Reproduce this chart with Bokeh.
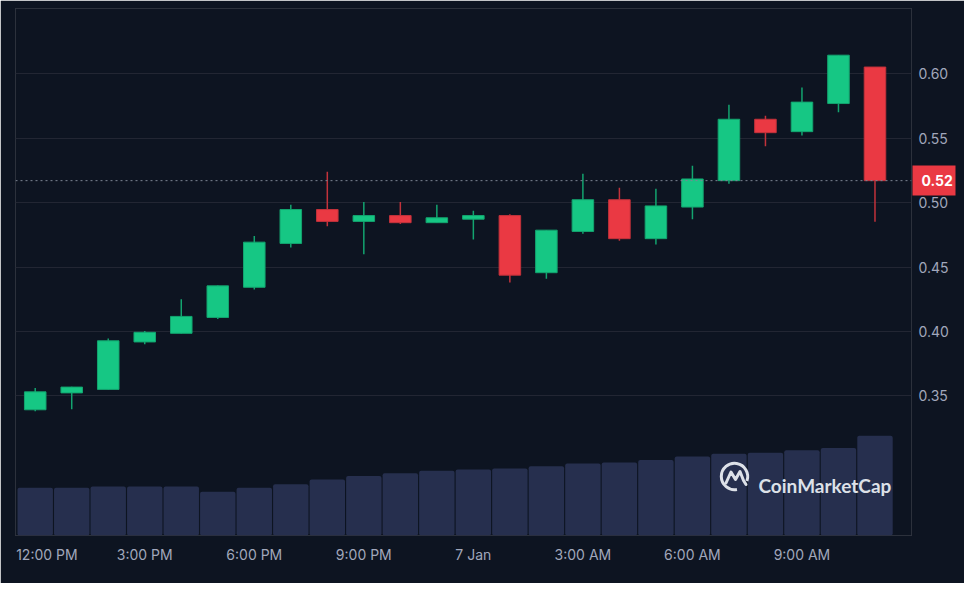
from bokeh.plotting import figure
from bokeh.models import (Range1d, FixedTicker, Span, Label, ColumnDataSource,
                          NumeralTickFormatter, LinearAxis)
from bokeh.embed import file_html
from bokeh.resources import INLINE

# ---------------- data ----------------
hours = list(range(24))  # hourly candles, 12:00 PM (6 Jan) .. 11:00 AM (7 Jan)
open_ = [0.3393, 0.3524, 0.3551, 0.3919, 0.3986, 0.4109, 0.4343, 0.4683,
         0.4946, 0.4854, 0.4899, 0.4844, 0.4871, 0.4899, 0.4456, 0.4776,
         0.5022, 0.4720, 0.4965, 0.5170, 0.5646, 0.5550, 0.5768, 0.6051]
high = [0.3562, 0.3572, 0.3946, 0.4004, 0.4250, 0.4356, 0.4741, 0.4984,
        0.5238, 0.5005, 0.5005, 0.4984, 0.4937, 0.4909, 0.4786, 0.5223,
        0.5115, 0.5108, 0.5286, 0.5759, 0.5673, 0.5892, 0.6143, 0.6051]
low = [0.3381, 0.3398, 0.3549, 0.3901, 0.3984, 0.4097, 0.4326, 0.4652,
       0.4816, 0.4600, 0.4833, 0.4843, 0.4713, 0.4381, 0.4409, 0.4758,
       0.4703, 0.4675, 0.4871, 0.5146, 0.5437, 0.5520, 0.5701, 0.4851]
close = [0.3532, 0.3569, 0.3928, 0.3994, 0.4117, 0.4354, 0.4693, 0.4946,
         0.4854, 0.4899, 0.4844, 0.4882, 0.4899, 0.4437, 0.4786, 0.5022,
         0.4720, 0.4974, 0.5183, 0.5646, 0.5542, 0.5779, 0.6143, 0.5170]
volume_m = [4.90, 4.90, 5.03, 5.03, 5.03, 4.50, 4.90, 5.27, 5.77, 6.13, 6.40, 6.67,
            6.80, 6.90, 7.13, 7.40, 7.50, 7.77, 8.13, 8.40, 8.50, 8.77, 9.00, 10.27]
tick_hours = [0.32, 3, 6, 9, 12, 15, 18, 21]
tick_labels = ["12:00 PM", "3:00 PM", "6:00 PM", "9:00 PM", "7 Jan", "3:00 AM", "6:00 AM", "9:00 AM"]
price_ticks = [0.35, 0.40, 0.45, 0.50, 0.55, 0.60]

# ---------------- style ----------------
BG = "#0d1421"
UP, DOWN = "#16c784", "#ea3943"
UP_EDGE, DOWN_EDGE = "#13a46f", "#c2323b"
GRID = "#222633"
TXT = "#a1a7bb"
VOL = "#262f4e"

W, H = 964, 583
FL, FT, FR, FB = 15, 8, 911, 535          # frame edges in canvas px
X0, X1 = -0.54, 24.0
Y0, Y1 = 0.2418, 0.6505
PPX = (FR - FL) / (X1 - X0)
PPY = (FB - FT) / (Y1 - Y0)


def cx(px):
    return X0 + (px - FL) / PPX


def cy(py):
    return Y1 - (py - FT) / PPY


p = figure(width=W, height=H, x_range=Range1d(X0, X1), y_range=Range1d(Y0, Y1),
           output_backend="svg", toolbar_location=None, y_axis_location="right",
           min_border_left=FL, min_border_right=W - FR, min_border_top=FT,
           min_border_bottom=H - FB,
           background_fill_color=BG, border_fill_color=BG,
           outline_line_color="#2c313c", outline_line_width=1)
p.extra_y_ranges = {"vol": Range1d(0, 54.2)}

# volume bars
p.vbar(x=hours, top=volume_m, width=0.97, y_range_name="vol",
       fill_color=VOL, line_color=None, border_radius=2)

# candles
up = [c >= o for o, c in zip(open_, close)]
src = ColumnDataSource(dict(
    x=hours, high=high, low=low,
    top=[max(o, c) for o, c in zip(open_, close)],
    bottom=[min(o, c) for o, c in zip(open_, close)],
    fill=[UP if u else DOWN for u in up],
    edge=[UP_EDGE if u else DOWN_EDGE for u in up],
))
p.segment(x0="x", y0="low", x1="x", y1="high", line_color="edge", line_width=1.5, source=src)
p.vbar(x="x", top="top", bottom="bottom", width=0.59, fill_color="fill",
       line_color="edge", line_width=1, source=src)

# current price line
last = close[-1]
p.add_layout(Span(location=last, dimension="width", line_color="#7d8594",
                  line_dash="2 3", line_width=1))

# watermark
WM = "#dde1e8"
p.arc(x=[cx(734)], y=[cy(476)], radius=13.2, radius_units="screen",
      start_angle=-0.35, end_angle=4.9, direction="anticlock",
      line_color=WM, line_width=3)
mx = [725.5, 730.5, 735, 739.5, 743, 745.5]
my = [482.5, 471.5, 479, 471, 480, 484]
p.line(x=[cx(v) for v in mx], y=[cy(v) for v in my], line_color=WM, line_width=3,
       line_join="round", line_cap="round")
p.add_layout(Label(x=cx(758), y=cy(484.5), text="CoinMarketCap", text_align="left",
                   text_baseline="alphabetic", text_color=WM, text_font="Lato",
                   text_font_style="bold", text_font_size="19px"))

# axes
ya = p.yaxis[0]
ya.ticker = FixedTicker(ticks=price_ticks)
ya.formatter = NumeralTickFormatter(format="0.00")
p.ygrid.ticker = ya.ticker
xa = p.xaxis[0]
xa.ticker = FixedTicker(ticks=tick_hours)
xa.major_label_overrides = {t: l for t, l in zip(tick_hours, tick_labels)}
for ax, so in ((ya, 7), (xa, 10)):
    ax.axis_line_color = None
    ax.major_tick_line_color = None
    ax.minor_tick_line_color = None
    ax.major_tick_out = 0
    ax.major_tick_in = 0
    ax.major_label_standoff = so
    ax.major_label_text_color = TXT
    ax.major_label_text_font = "Inter"
    ax.major_label_text_font_size = "14px"

# last-price tag: a second right axis whose single tick is drawn as a red box
tag = LinearAxis(ticker=FixedTicker(ticks=[last]), formatter=NumeralTickFormatter(format="0.00"),
                 axis_line_color=None, minor_tick_line_color=None,
                 major_tick_in=39, major_tick_out=4, major_tick_line_width=30,
                 major_tick_line_color=UP if up[-1] else DOWN, major_tick_line_cap="butt",
                 major_label_standoff=-34, major_label_text_color="white",
                 major_label_text_font="Inter", major_label_text_font_style="bold",
                 major_label_text_font_size="14px")
p.add_layout(tag, "right")

p.xgrid.visible = False
p.ygrid.grid_line_color = GRID
p.ygrid.grid_line_width = 1

open("out.html", "w").write(file_html(p, INLINE))
